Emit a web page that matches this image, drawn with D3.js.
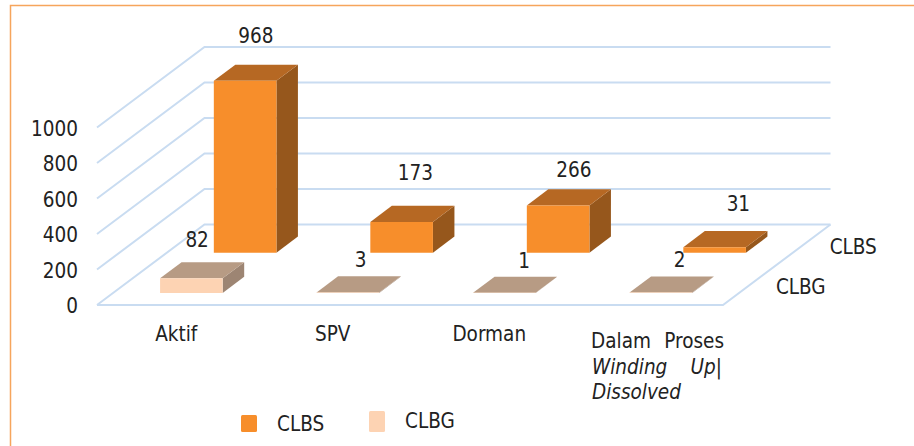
<!DOCTYPE html>
<html>
  <head>
    <script src="https://cdnjs.cloudflare.com/ajax/libs/d3/7.8.5/d3.min.js"></script>
    <style>
      html, body { margin: 0; background: #fff; }
      svg { display: block; font-family: "DejaVu Sans", sans-serif; font-stretch: condensed; fill: #222; }
    </style>
  </head>
  <body>
    <div id="vis"></div>
    <script type="text/javascript">
      const categories = ["Aktif", "SPV", "Dorman", "Dalam Proses Winding Up/ Dissolved"];
      const seriesNames = ["CLBG", "CLBS"];
      const clbs = [968, 173, 266, 31];
      const clbg = [82, 3, 1, 2];
      const yTicks = [0, 200, 400, 600, 800, 1000];

      const width = 914;
      const height = 446;
      const svg = d3.select("#vis").append("svg")
        .attr("width", width)
        .attr("height", height);

      const x = d3.scaleBand().domain(categories).range([97, 723]).paddingInner(0.6).paddingOuter(0.3);
      const y = d3.scaleLinear().domain([0, 1000]).range([305, 127.5]);
      // depth runs 0 (front) to 1 (back), both planes use the same band split
      const depth = d3.scaleBand().domain(seriesNames).range([0, 1]).paddingInner(0.6).paddingOuter(0.3);
      const depthX = d3.scaleLinear().domain([0, 1]).range([0, 107.5]);
      const depthY = d3.scaleLinear().domain([0, 1]).range([0, -80.5]);

      // screen position of a point in the 3d box
      const px = (xv, d) => xv + depthX(d);
      const py = (v, d) => y(v) + depthY(d);
      const pts = a => a.map(p => p.join(",")).join(" ");

      const gridColor = "#c9dcf1";

      // frame
      svg.append("path")
        .attr("d", d3.line()([[10.5, height], [10.5, 5.5], [width, 5.5]]))
        .attr("fill", "none")
        .attr("stroke", "#f6a55c")
        .attr("stroke-width", 1.5);

      // grid
      const grid = svg.append("g").attr("fill", "none").attr("stroke", gridColor).attr("stroke-width", 2);
      grid.selectAll("polyline")
        .data(yTicks)
        .join("polyline")
        .attr("points", d => pts([
          [px(x.range()[0], 0), py(d, 0)],
          [px(x.range()[0], 1), py(d, 1)],
          [px(x.range()[1], 1), py(d, 1)]
        ]));
      grid.append("polyline")
        .attr("points", pts([
          [px(x.range()[0], 0), py(0, 0)],
          [px(x.range()[1], 0), py(0, 0)],
          [px(x.range()[1], 1), py(0, 1)]
        ]));

      const palette = {
        CLBS: { front: "#f78e2b", top: "#b66823", side: "#96571c" },
        CLBG: { front: "#fdd3b3", top: "#b79b84", side: "#9d8573" }
      };

      function drawBars(name, values) {
        const d0 = depth(name);
        const d1 = d0 + depth.bandwidth();
        const c = palette[name];
        const g = svg.append("g").attr("class", "bars-" + name);
        values.forEach((v, i) => {
          const x0 = x(categories[i]);
          const x1 = x0 + x.bandwidth();
          g.append("polygon").attr("fill", c.side).attr("points", pts([
            [px(x1, d0), py(0, d0)], [px(x1, d1), py(0, d1)],
            [px(x1, d1), py(v, d1)], [px(x1, d0), py(v, d0)]
          ]));
          g.append("polygon").attr("fill", c.top).attr("points", pts([
            [px(x0, d0), py(v, d0)], [px(x1, d0), py(v, d0)],
            [px(x1, d1), py(v, d1)], [px(x0, d1), py(v, d1)]
          ]));
          g.append("polygon").attr("fill", c.front).attr("points", pts([
            [px(x0, d0), py(0, d0)], [px(x1, d0), py(0, d0)],
            [px(x1, d0), py(v, d0)], [px(x0, d0), py(v, d0)]
          ]));
        });
      }
      // back row first so the front row overlaps it
      drawBars("CLBS", clbs);
      drawBars("CLBG", clbg);

      const fs = 20.5;
      const text = (s, tx, ty, anchor, extra) => svg.append("text")
        .attr("x", tx).attr("y", ty)
        .attr("text-anchor", anchor || "start")
        .attr("dominant-baseline", "central")
        .attr("font-size", fs)
        .attr("font-style", extra || null)
        .text(s);

      // y axis
      yTicks.forEach(t => text(t, 78, y(t) + 1, "end"));

      // data labels were moved by hand in the original, hence the nudges
      const clbsNudge = [[0, -29], [3, -33], [5, -19], [13, -27]];
      const clbgNudge = [[-5, -22], [2, -16], [9, -16], [8, -16]];
      function drawLabels(name, values, nudge) {
        const d0 = depth(name);
        const d1 = d0 + depth.bandwidth();
        values.forEach((v, i) => {
          const cx = px(x(categories[i]) + x.bandwidth() / 2, (d0 + d1) / 2);
          const cy = py(v, d1);
          text(v, cx + nudge[i][0], cy + nudge[i][1], "middle");
        });
      }
      drawLabels("CLBS", clbs, clbsNudge);
      drawLabels("CLBG", clbg, clbgNudge);

      // category labels
      categories.slice(0, 3).forEach(c => text(c, x(c) + x.bandwidth() / 2 + 1, 334, "middle"));
      text("Dalam", 591, 341);
      text("Proses", 724, 341, "end");
      text("Winding", 592, 367, "start", "italic");
      text("Up|", 722, 367, "end", "italic");
      text("Dissolved", 592, 392, "start", "italic");

      // depth axis labels
      seriesNames.forEach(s => {
        const d = depth(s) + depth.bandwidth() / 2;
        text(s, px(x.range()[1], d) + 26, py(0, d) + 2);
      });

      // legend
      svg.append("rect").attr("x", 241).attr("y", 415).attr("width", 16).attr("height", 17).attr("rx", 1.5).attr("fill", palette.CLBS.front);
      text("CLBS", 277, 424);
      svg.append("rect").attr("x", 369).attr("y", 411).attr("width", 16).attr("height", 21).attr("rx", 1.5).attr("fill", palette.CLBG.front);
      text("CLBG", 405, 421);
    </script>
  </body>
</html>
